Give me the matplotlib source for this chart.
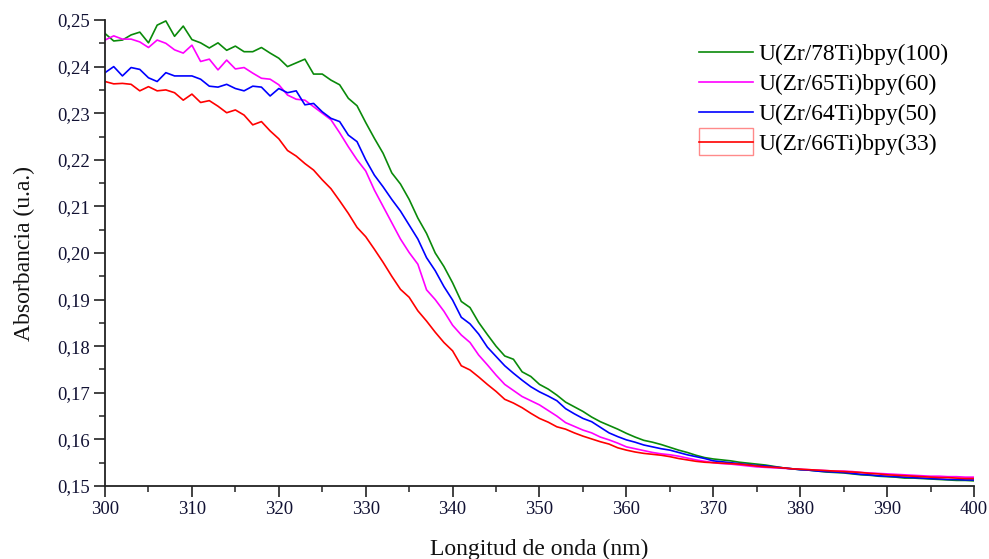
import matplotlib
matplotlib.use("Agg")
import matplotlib.pyplot as plt
from matplotlib.ticker import MultipleLocator, FuncFormatter
from matplotlib.legend_handler import HandlerBase
from matplotlib.patches import Rectangle
from matplotlib.lines import Line2D
import numpy as np

wavelength = list(range(300, 401))

green_100 = [
    .2471, .2455, .2457, .2468, .2474, .2451, .2489, .2498, .2465, .2487,
    .2458, .2451, .2440, .2451, .2435, .2444, .2432, .2432, .2441, .2429,
    .2418, .2400, .2408, .2416, .2384, .2384, .2371, .2361, .2332, .2316,
    .2280, .2246, .2214, .2172, .2148, .2115, .2075, .2042, .2000, .1971,
    .1936, .1896, .1883, .1851, .1825, .1800, .1779, .1772, .1745, .1735,
    .1718, .1708, .1695, .1680, .1670, .1660, .1648, .1638, .1630, .1622,
    .1613, .1605, .1598, .1594, .1589, .1583, .1577, .1572, .1566, .1561,
    .1558, .1556, .1554, .1551, .1549, .1547, .1545, .1542, .1539, .1537,
    .1535, .1534, .1532, .1530, .1529, .1528, .1526, .1524, .1523, .1521,
    .1520, .1519, .1517, .1517, .1516, .1515, .1514, .1513, .1512, .1512,
    .1511]

magenta_60 = [
    .2457, .2466, .2459, .2459, .2453, .2441, .2457, .2450, .2436, .2429,
    .2446, .2411, .2416, .2393, .2414, .2395, .2398, .2386, .2375, .2373,
    .2361, .2339, .2330, .2328, .2314, .2300, .2286, .2258, .2228, .2200,
    .2176, .2135, .2100, .2065, .2030, .2001, .1976, .1921, .1900, .1875,
    .1845, .1824, .1808, .1781, .1760, .1738, .1718, .1705, .1692, .1683,
    .1674, .1662, .1650, .1636, .1628, .1620, .1614, .1605, .1599, .1592,
    .1584, .1580, .1576, .1572, .1569, .1567, .1564, .1560, .1556, .1553,
    .1550, .1548, .1547, .1545, .1543, .1541, .1540, .1539, .1538, .1537,
    .1536, .1535, .1534, .1533, .1532, .1532, .1531, .1529, .1528, .1527,
    .1526, .1525, .1524, .1523, .1522, .1521, .1521, .1520, .1520, .1519,
    .1519]

blue_50 = [
    .2387, .2400, .2380, .2398, .2394, .2376, .2368, .2387, .2380, .2380,
    .2380, .2373, .2358, .2356, .2362, .2353, .2348, .2358, .2356, .2337,
    .2353, .2344, .2348, .2318, .2321, .2303, .2289, .2282, .2253, .2239,
    .2200, .2167, .2142, .2115, .2090, .2060, .2030, .1990, .1962, .1928,
    .1899, .1862, .1848, .1826, .1798, .1778, .1758, .1742, .1727, .1713,
    .1702, .1693, .1683, .1666, .1655, .1645, .1638, .1626, .1614, .1606,
    .1599, .1594, .1588, .1584, .1580, .1577, .1572, .1567, .1563, .1559,
    .1554, .1552, .1550, .1548, .1546, .1544, .1543, .1541, .1539, .1537,
    .1535, .1534, .1532, .1531, .1530, .1529, .1527, .1525, .1524, .1522,
    .1521, .1520, .1519, .1518, .1517, .1516, .1515, .1514, .1514, .1513,
    .1513]

red_33 = [
    .2368, .2363, .2364, .2362, .2348, .2357, .2348, .2350, .2344, .2328,
    .2341, .2323, .2327, .2315, .2301, .2307, .2296, .2275, .2282, .2262,
    .2245, .2220, .2208, .2192, .2178, .2157, .2138, .2112, .2085, .2055,
    .2035, .2008, .1980, .1950, .1922, .1905, .1876, .1854, .1830, .1808,
    .1790, .1758, .1749, .1734, .1718, .1703, .1686, .1678, .1668, .1656,
    .1645, .1637, .1627, .1622, .1614, .1607, .1601, .1595, .1590, .1582,
    .1577, .1573, .1570, .1568, .1566, .1563, .1559, .1556, .1553, .1551,
    .1550, .1549, .1548, .1547, .1545, .1543, .1541, .1540, .1539, .1537,
    .1536, .1535, .1534, .1533, .1532, .1531, .1530, .1529, .1527, .1526,
    .1524, .1523, .1522, .1521, .1520, .1519, .1518, .1518, .1517, .1516,
    .1516]

labels = ["U(Zr/78Ti)bpy(100)", "U(Zr/65Ti)bpy(60)",
          "U(Zr/64Ti)bpy(50)", "U(Zr/66Ti)bpy(33)"]
colors = ["#0a8a0a", "#ff00ff", "#0000ff", "#ff0000"]

plt.rcParams["font.family"] = ["Liberation Serif", "DejaVu Serif"]

fig = plt.figure(figsize=(9.89, 5.59), dpi=100)
ax = fig.add_axes([0.1062, 0.1306, 0.8786, 0.8336])

series = [green_100, magenta_60, blue_50, red_33]
lines = []
for ys, c, lab in zip(series, colors, labels):
    ln, = ax.plot(wavelength, ys, color=c, lw=1.2, label=lab)
    lines.append(ln)

ax.set_xlim(300, 400)
ax.set_ylim(0.15, 0.25)
ax.xaxis.set_major_locator(MultipleLocator(10))
ax.xaxis.set_minor_locator(MultipleLocator(5))
ax.yaxis.set_major_locator(MultipleLocator(0.01))
ax.yaxis.set_minor_locator(MultipleLocator(0.005))
ax.yaxis.set_major_formatter(FuncFormatter(lambda v, p: f"{v:.2f}".replace(".", ",")))

for s in ["top", "right"]:
    ax.spines[s].set_visible(False)
for s in ["left", "bottom"]:
    ax.spines[s].set_linewidth(1.3)
    ax.spines[s].set_color("#222222")

ax.tick_params(which="major", direction="out", length=8, width=1.2, labelsize=13.5,
               colors="#222222", pad=3)
ax.tick_params(which="minor", direction="out", length=4.5, width=1.1, colors="#222222")
for t in ax.get_xticklabels() + ax.get_yticklabels():
    t.set_color("#111133")

ax.set_xlabel("Longitud de onda (nm)", fontsize=17, labelpad=15, color="#111111")
ax.set_ylabel("Absorbancia (u.a.)", fontsize=17, labelpad=16, color="#111111")


class BoxLineHandler(HandlerBase):
    def create_artists(self, legend, orig_handle, xdescent, ydescent,
                       width, height, fontsize, trans):
        bh = fontsize * 1.15
        cy = -ydescent + height / 2
        rect = Rectangle((-xdescent, cy - bh / 2), width, bh, transform=trans,
                         facecolor="white", edgecolor="#ff8a8a", lw=1.0)
        ln = Line2D([-xdescent, -xdescent + width], [cy, cy],
                    color=orig_handle.get_color(), lw=orig_handle.get_linewidth(),
                    transform=trans)
        return [rect, ln]


leg = ax.legend(handles=lines, loc="upper left", bbox_to_anchor=(0.707, 0.921),
                bbox_transform=fig.transFigure, frameon=False, fontsize=16.8,
                handlelength=2.32, handletextpad=0.22, labelspacing=0.36,
                borderpad=0.0, borderaxespad=0.0,
                handler_map={lines[3]: BoxLineHandler()})

fig.savefig("out.png", dpi=100)
